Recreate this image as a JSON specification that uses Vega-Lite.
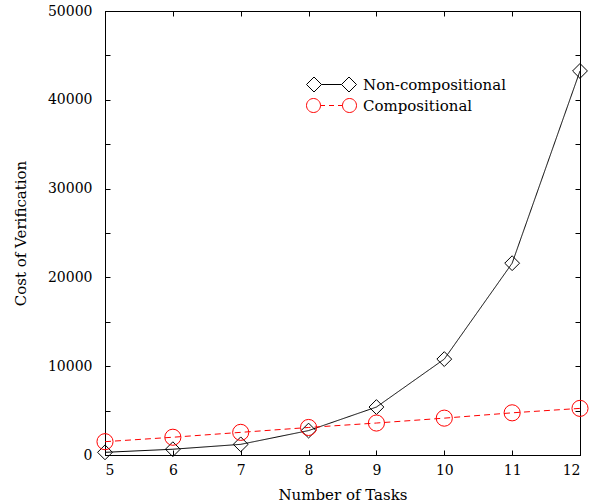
{
  "$schema": "https://vega.github.io/schema/vega-lite/v6.json",
  "width": 475,
  "height": 444,
  "autosize": {"type": "none"},
  "padding": {"left": 105, "top": 11, "right": 13, "bottom": 49},
  "background": "white",
  "config": {
    "view": {"stroke": "black", "strokeWidth": 1},
    "font": "DejaVu Serif",
    "axis": {
      "grid": false,
      "domainColor": "black",
      "tickColor": "black",
      "labelColor": "black",
      "titleColor": "black",
      "labelFont": "DejaVu Serif",
      "titleFont": "DejaVu Serif",
      "labelFontSize": 14,
      "titleFontSize": 15,
      "titleFontWeight": "normal",
      "tickSize": -5
    },
    "legend": {"labelFont": "DejaVu Serif", "labelFontSize": 15, "labelColor": "black"}
  },
  "data": {
    "values": [
      {"tasks": 5, "cost": 300, "series": "Non-compositional"},
      {"tasks": 6, "cost": 650, "series": "Non-compositional"},
      {"tasks": 7, "cost": 1200, "series": "Non-compositional"},
      {"tasks": 8, "cost": 2750, "series": "Non-compositional"},
      {"tasks": 9, "cost": 5400, "series": "Non-compositional"},
      {"tasks": 10, "cost": 10800, "series": "Non-compositional"},
      {"tasks": 11, "cost": 21600, "series": "Non-compositional"},
      {"tasks": 12, "cost": 43250, "series": "Non-compositional"},
      {"tasks": 5, "cost": 1500, "series": "Compositional"},
      {"tasks": 6, "cost": 2000, "series": "Compositional"},
      {"tasks": 7, "cost": 2550, "series": "Compositional"},
      {"tasks": 8, "cost": 3100, "series": "Compositional"},
      {"tasks": 9, "cost": 3600, "series": "Compositional"},
      {"tasks": 10, "cost": 4150, "series": "Compositional"},
      {"tasks": 11, "cost": 4750, "series": "Compositional"},
      {"tasks": 12, "cost": 5250, "series": "Compositional"}
    ]
  },
  "resolve": {"scale": {"shape": "independent", "color": "independent", "size": "independent"}},
  "layer": [
    {
      "mark": {"type": "line", "strokeWidth": 1},
      "encoding": {
        "x": {"field": "tasks", "type": "quantitative", "scale": {"domain": [5, 12], "nice": false},
              "axis": {"orient": "bottom", "title": "Number of Tasks", "values": [5,6,7,8,9,10,11,12], "labelPadding": 13, "titlePadding": 10}},
        "y": {"field": "cost", "type": "quantitative", "scale": {"domain": [0, 50000], "nice": false},
              "axis": {"orient": "left", "title": "Cost of Verification", "values": [0,5000,10000,15000,20000,25000,30000,35000,40000,45000,50000],
                       "labelExpr": "datum.value % 10000 == 0 ? datum.value : ''", "labelPadding": 18, "titlePadding": 19}},
        "color": {"field": "series", "type": "nominal", "scale": {"domain": ["Non-compositional", "Compositional"], "range": ["black", "red"]}, "legend": null},
        "strokeDash": {"field": "series", "type": "nominal", "scale": {"domain": ["Non-compositional", "Compositional"], "range": [[1, 0], [6, 4]]}, "legend": null}
      }
    },
    {
      "mark": {"type": "point", "filled": false, "strokeWidth": 1, "opacity": 1},
      "encoding": {
        "x": {"field": "tasks", "type": "quantitative", "axis": {"orient": "top", "title": null, "labels": false, "values": [5,6,7,8,9,10,11,12]}},
        "y": {"field": "cost", "type": "quantitative", "axis": {"orient": "right", "title": null, "labels": false, "values": [0,5000,10000,15000,20000,25000,30000,35000,40000,45000,50000]}},
        "color": {"field": "series", "type": "nominal", "scale": {"domain": ["Non-compositional", "Compositional"], "range": ["black", "red"]}, "legend": null},
        "shape": {"field": "series", "type": "nominal", "scale": {"domain": ["Non-compositional", "Compositional"], "range": ["diamond", "circle"]}, "legend": null},
        "size": {"field": "series", "type": "nominal", "scale": {"domain": ["Non-compositional", "Compositional"], "range": [220, 260]}, "legend": null}
      }
    },
    {
      "transform": [{"filter": "datum.tasks < 0"}],
      "mark": {"type": "point", "filled": false, "strokeWidth": 1, "opacity": 1, "size": 400},
      "encoding": {
        "color": {"field": "series", "type": "nominal", "scale": {"domain": ["Non-compositional", "Compositional"], "range": ["black", "red"]},
                  "legend": {"title": null, "orient": "none", "legendX": 231, "legendY": 63, "padding": 0, "symbolSize": 400, "symbolStrokeWidth": 1, "symbolFillColor": "transparent", "rowPadding": 1, "labelOffset": 6}},
        "shape": {"field": "series", "type": "nominal", "scale": {"domain": ["Non-compositional", "Compositional"],
                  "range": ["M-4,0 L-3.25,-0.75 L-2.5,0 L-3.25,0.75 Z M-2.5,0 L-0.5,0 M-0.5,0 L0.25,-0.75 L1,0 L0.25,0.75 Z",
                            "M-4,0 A0.7,0.7 0 1,1 -2.6,0 A0.7,0.7 0 1,1 -4,0 Z M-2.6,0 L-2.15,0 M-1.75,0 L-1.25,0 M-0.85,0 L-0.4,0 M-0.4,0 A0.7,0.7 0 1,1 1,0 A0.7,0.7 0 1,1 -0.4,0 Z"]},
                  "legend": {"title": null, "orient": "none", "legendX": 231, "legendY": 63, "padding": 0, "symbolSize": 400, "symbolStrokeWidth": 1, "symbolFillColor": "transparent", "rowPadding": 1, "labelOffset": 6}}
      }
    }
  ]
}
